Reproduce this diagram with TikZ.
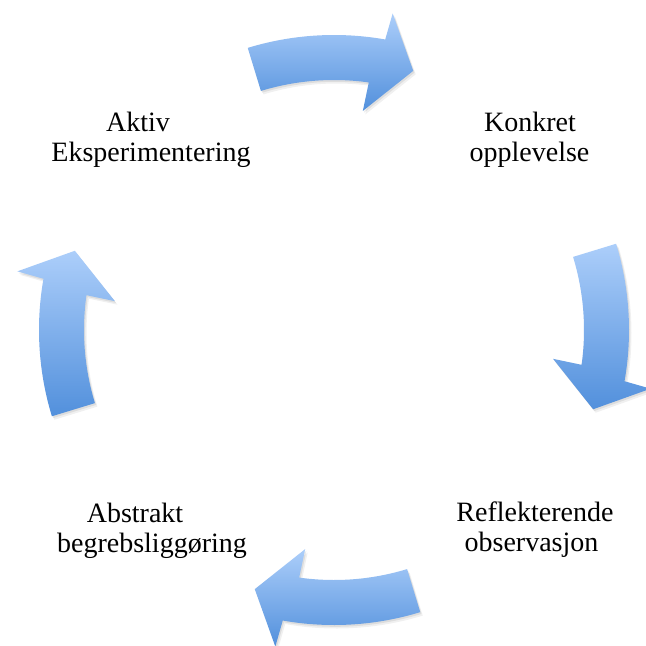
\documentclass[tikz,border=0pt]{standalone}
\usepackage{fontspec}
\setmainfont{Liberation Serif}
\definecolor{arrtop}{RGB}{172,206,250}
\definecolor{arrbot}{RGB}{82,144,220}
\tikzset{
  lbl/.style={anchor=base, inner sep=0pt, font=\fontsize{28}{30}\selectfont, text=black},
  blockarrow/.style={top color=arrtop, bottom color=arrbot, draw=none},
  arrshadow/.style={fill=black, draw=none}
}
\newcommand{\cyclearrow}[1]{%
  \path[arrshadow, opacity=0.06, shift={(2.5,-3.5)}] (#1+17:295) arc[start angle=#1+17, end angle=#1-10, radius=295]
    -- (#1-10.5:322) -- (#1-17:271) -- (#1-7.5:221) -- (#1-8:250)
    arc[start angle=#1-8, end angle=#1+17, radius=250] -- cycle;
  \path[arrshadow, opacity=0.08, shift={(1.2,-1.8)}] (#1+17:295) arc[start angle=#1+17, end angle=#1-10, radius=295]
    -- (#1-10.5:322) -- (#1-17:271) -- (#1-7.5:221) -- (#1-8:250)
    arc[start angle=#1-8, end angle=#1+17, radius=250] -- cycle;
  \shade[blockarrow] (#1+17:295) arc[start angle=#1+17, end angle=#1-10, radius=295]
    -- (#1-10.5:322) -- (#1-17:271) -- (#1-7.5:221) -- (#1-8:250)
    arc[start angle=#1-8, end angle=#1+17, radius=250] -- cycle;
}
\begin{document}
\begin{tikzpicture}[x=1pt, y=1pt]
\useasboundingbox (0,0) rectangle (646,-646);
\clip (0,0) rectangle (646,-646);
\fill[white] (0,0) rectangle (646,-646);
\begin{scope}[shift={(334,-330)}]
  \cyclearrow{90}
  \cyclearrow{0}
  \cyclearrow{-90}
  \cyclearrow{180}
\end{scope}
\node[lbl] (aktiv) at (138,-131) {Aktiv};
\node[lbl] (eksp) at (151,-161) {Eksperimentering};
\node[lbl] (konkret) at (530,-131) {Konkret};
\node[lbl] (oppl) at (529.5,-161) {opplevelse};
\node[lbl] (refl) at (535,-521) {Reflekterende};
\node[lbl] (obs) at (531.5,-551) {observasjon};
\node[lbl] (abstr) at (135,-522) {Abstrakt};
\node[lbl] (begr) at (152,-552) {begrebsliggøring};
\end{tikzpicture}
\end{document}
